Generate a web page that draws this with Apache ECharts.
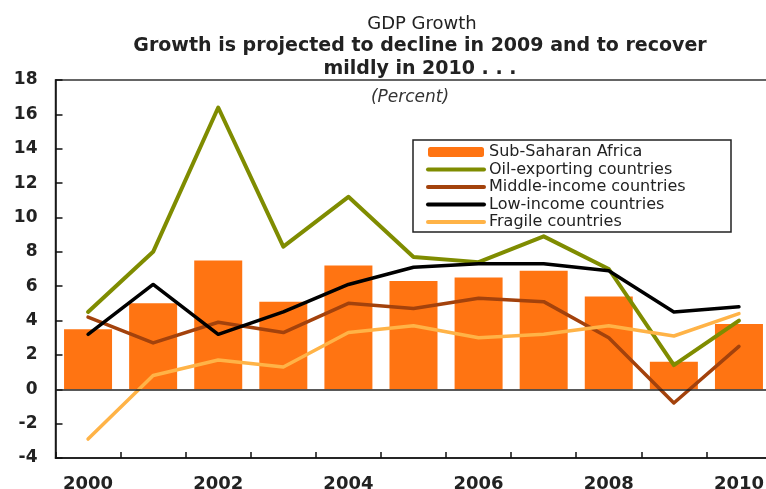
<!DOCTYPE html>
<html>
<head>
<meta charset="utf-8">
<script src="https://cdn.jsdelivr.net/npm/echarts@6/dist/echarts.min.js"></script>
<style>
html,body{margin:0;padding:0;background:#fff;}
#chart{width:766px;height:489px;}
</style>
</head>
<body>
<div id="chart"></div>
<script>
const years = ['2000','2001','2002','2003','2004','2005','2006','2007','2008','2009','2010'];
const subSaharan = [3.5, 5.0, 7.5, 5.1, 7.2, 6.3, 6.5, 6.9, 5.4, 1.6, 3.8];
const oilExporting = [4.5, 8.0, 16.4, 8.3, 11.2, 7.7, 7.4, 8.9, 7.0, 1.4, 4.0];
const middleIncome = [4.2, 2.7, 3.9, 3.3, 5.0, 4.7, 5.3, 5.1, 3.0, -0.8, 2.5];
const lowIncome = [3.2, 6.1, 3.2, 4.5, 6.1, 7.1, 7.3, 7.3, 6.9, 4.5, 4.8];
const fragile = [-2.9, 0.8, 1.7, 1.3, 3.3, 3.7, 3.0, 3.2, 3.7, 3.1, 4.4];
const seriesNames = ['Sub-Saharan Africa','Oil-exporting countries','Middle-income countries','Low-income countries','Fragile countries'];
const titleLines = ['GDP Growth','Growth is projected to decline in 2009 and to recover','mildly in 2010 . . .','(Percent)'];

const FONT = '"DejaVu Sans", Arial, sans-serif';
const chart = echarts.init(document.getElementById('chart'));

function lineSeries(name, data, color, width, z) {
  return {
    name: name, type: 'line', data: data, symbol: 'none', z: z,
    lineStyle: {color: color, width: width, cap: 'round', join: 'round'},
    itemStyle: {color: color}
  };
}

const legendData = seriesNames.map(function (n, i) {
  if (i === 0) return {name: n};
  return {name: n, itemStyle: {opacity: 0}, lineStyle: {width: 4, cap: 'round', opacity: 1}};
});

chart.setOption({
  animation: false,
  backgroundColor: '#fff',
  grid: {left: 55.5, top: 80, width: 716, height: 378, show: true, borderColor: '#333', borderWidth: 1.5,
    containLabel: false, outerBoundsMode: 'none'},
  graphic: [
    {type: 'text', x: 422, y: 24, style: {text: titleLines[0], font: 'normal 18px ' + FONT, fill: '#222', textAlign: 'center', textVerticalAlign: 'middle'}},
    {type: 'text', x: 420, y: 46, style: {text: titleLines[1], font: 'bold 19px ' + FONT, fill: '#222', textAlign: 'center', textVerticalAlign: 'middle'}},
    {type: 'text', x: 420, y: 69, style: {text: titleLines[2], font: 'bold 19px ' + FONT, fill: '#222', textAlign: 'center', textVerticalAlign: 'middle'}},
    {type: 'text', x: 410, y: 98, style: {text: titleLines[3], font: 'italic 17px ' + FONT, fill: '#333', textAlign: 'center', textVerticalAlign: 'middle'}},
    {type: 'rect', shape: {x: 413, y: 140, width: 318, height: 92}, style: {fill: 'rgba(0,0,0,0)', stroke: '#222', lineWidth: 1.5}, z: 10}
  ],
  legend: {
    orient: 'vertical', left: 426, top: 144, padding: 0,
    itemWidth: 56, itemHeight: 10, itemGap: 1.5,
    data: legendData,
    textStyle: {fontFamily: FONT, fontSize: 16, color: '#222', lineHeight: 16}
  },
  xAxis: {
    type: 'category', data: years, boundaryGap: true,
    axisLine: {show: true, lineStyle: {color: '#111', width: 1.5}, onZero: false},
    axisTick: {show: true, inside: true, length: 6, interval: 0, lineStyle: {color: '#111', width: 1.5}},
    axisLabel: {interval: 1, margin: 17, fontFamily: FONT, fontSize: 18, fontWeight: 'bold', color: '#222'},
    splitLine: {show: false}
  },
  yAxis: {
    type: 'value', min: -4, max: 18, interval: 2,
    axisLine: {show: true, lineStyle: {color: '#111', width: 1.5}},
    axisTick: {show: true, inside: true, length: 7, lineStyle: {color: '#111', width: 1.5}},
    axisLabel: {margin: 18, fontFamily: FONT, fontSize: 17, fontWeight: 'bold', color: '#222'},
    splitLine: {show: false}
  },
  series: [
    {
      name: seriesNames[0], type: 'bar', data: subSaharan, barWidth: 48, z: 1,
      itemStyle: {color: '#FF7412'},
      markLine: {silent: true, symbol: 'none', label: {show: false}, animation: false,
        lineStyle: {color: '#222', width: 1.5, type: 'solid'}, data: [{yAxis: 0}]}
    },
    lineSeries(seriesNames[1], oilExporting, '#7F8C00', 4, 3),
    lineSeries(seriesNames[2], middleIncome, '#A3420C', 3.5, 3),
    lineSeries(seriesNames[3], lowIncome, '#000000', 3.5, 4),
    lineSeries(seriesNames[4], fragile, '#FFB347', 3.5, 3)
  ]
});
</script>
</body>
</html>
